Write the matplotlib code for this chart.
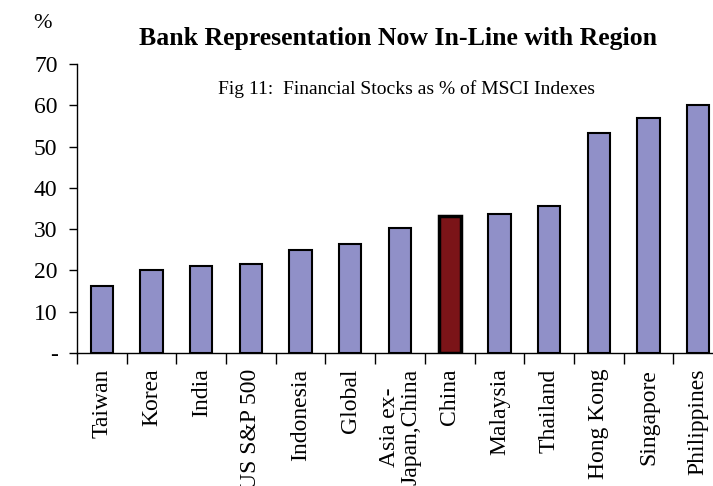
import matplotlib

matplotlib.use("Agg")
import matplotlib.pyplot as plt
import numpy as np

plt.rcParams["font.family"] = ["Liberation Serif", "DejaVu Serif"]

categories = [
    "Taiwan", "Korea", "India", "US S&P 500", "Indonesia", "Global",
    "Asia ex-\nJapan,China", "China", "Malaysia", "Thailand", "Hong Kong",
    "Singapore", "Philippines",
]
values = [16.3, 20.0, 21.0, 21.5, 25.0, 26.3, 30.2, 33.2, 33.7, 35.5, 53.3, 56.8, 60.0]
highlight = "China"
yticks = [0, 10, 20, 30, 40, 50, 60, 70]
yticklabels = ["-", "10", "20", "30", "40", "50", "60", "70"]

fig = plt.figure(figsize=(7.13, 4.86), dpi=100)
ax = fig.add_axes([77 / 713, 133 / 486, 646 / 713, 289 / 486])

x = np.arange(len(categories))
colors = ["#7B1418" if c == highlight else "#9090C8" for c in categories]
widths = [2.5 if c == highlight else 1.5 for c in categories]
ax.bar(x, values, width=0.45, color=colors, edgecolor="black", linewidth=widths, zorder=3)

ax.set_xlim(-0.5, len(categories) - 0.5)
ax.set_ylim(0, 70)
ax.set_yticks(yticks)
ax.set_yticklabels(yticklabels, fontsize=17)
ax.tick_params(axis="y", length=6, width=1, pad=8)

# category ticks sit on the boundaries between bars
ax.set_xticks(np.arange(len(categories) + 1) - 0.5)
ax.set_xticklabels([])
ax.tick_params(axis="x", length=8, width=1)
for xi, label in zip(x, categories):
    ax.text(xi, -3.8, label, rotation=90, ha="center", va="top", fontsize=17,
            multialignment="center", linespacing=1.0)

for side in ["top", "right"]:
    ax.spines[side].set_visible(False)
for side in ["left", "bottom"]:
    ax.spines[side].set_linewidth(1)

fig.text(398 / 713, 1 - 39 / 486, "Bank Representation Now In-Line with Region",
         ha="center", va="center", fontsize=18.5, fontweight="bold")
fig.text(42 / 713, 1 - 24 / 486, "%", ha="center", va="center", fontsize=16)
fig.text(406 / 713, 1 - 89 / 486, "Fig 11:  Financial Stocks as % of MSCI Indexes",
         ha="center", va="center", fontsize=14)

fig.savefig("out.png", dpi=100)
